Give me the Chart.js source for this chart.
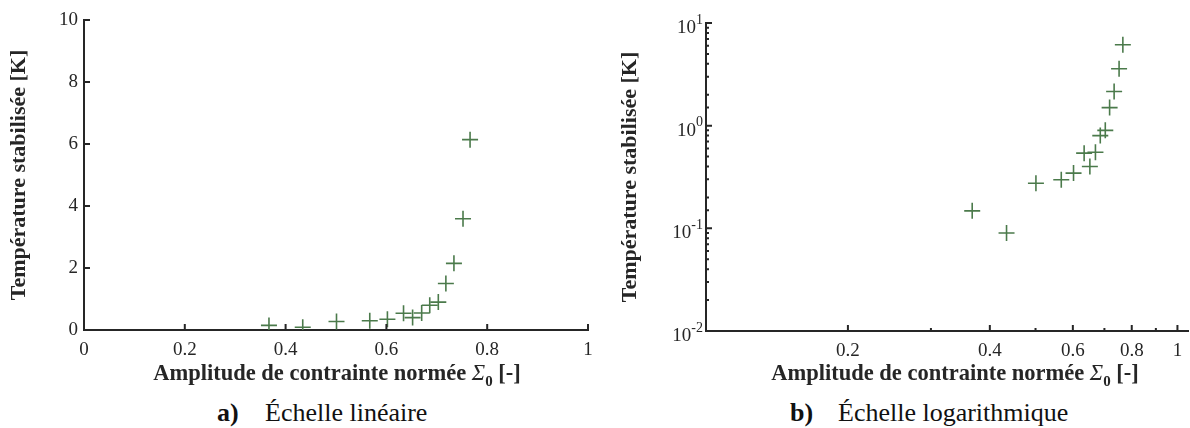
<!DOCTYPE html>
<html>
<head>
<meta charset="utf-8">
<script src="https://cdn.jsdelivr.net/npm/chart.js@4/dist/chart.umd.min.js"></script>
<style>
  body { margin: 0; width: 1190px; height: 428px; position: relative; overflow: hidden; background: #fff;
         font-family: "Liberation Serif", "Times New Roman", serif; color: #262626; }
  canvas { position: absolute; top: 0; }
  #graphA { left: 0; }
  #graphB { left: 590px; }
  .titreX { position: absolute; font-weight: bold; font-size: 22.5px; line-height: 26px; white-space: nowrap;
            transform: translateX(-50%); }
  .titreX i { font-weight: normal; }
  .titreX sub { font-size: 15px; vertical-align: -6px; }
  .legende { position: absolute; font-size: 26px; line-height: 30px; white-space: nowrap; color: #111; }
  .legende b { display: inline-block; width: 48px; }
</style>
</head>
<body>
<canvas id="graphA" width="600" height="380"></canvas>
<canvas id="graphB" width="608" height="380"></canvas>

<div class="titreX" style="left:337px; top:360px">Amplitude de contrainte normée <i>Σ</i><sub>0</sub> [-]</div>
<div class="titreX" style="left:955px; top:360px">Amplitude de contrainte normée <i>Σ</i><sub>0</sub> [-]</div>
<div class="legende" style="left:217px; top:398px"><b>a)</b>Échelle linéaire</div>
<div class="legende" style="left:790px; top:398px"><b>b)</b>Échelle logarithmique</div>

<script>
// ====== DONNÉES ======
const amplitude   = [0.367, 0.434, 0.501, 0.567, 0.602, 0.634, 0.652, 0.670, 0.686, 0.703, 0.718, 0.734, 0.752, 0.766];
const temperature = [0.148, 0.090, 0.275, 0.297, 0.345, 0.54, 0.40, 0.55, 0.80, 0.90, 1.50, 2.15, 3.59, 6.14];

const ticksXLin = [0, 0.2, 0.4, 0.6, 0.8, 1];
const ticksYLin = [0, 2, 4, 6, 8, 10];
const ticksXLog = [0.2, 0.3, 0.4, 0.5, 0.6, 0.7, 0.8, 0.9, 1];
const labelsXLog = [0.2, 0.4, 0.6, 0.8, 1];

const titreY = 'Température stabilisée [K]';
const vert = '#4b7a4b';
const noir = '#262626';
const police = '"Liberation Serif", "Times New Roman", serif';

const points = amplitude.map((a, i) => ({ x: a, y: temperature[i] }));

// ====== PLUGINS ======
// petits traits vers l'intérieur, façon MATLAB
const traitsInterieurs = {
  id: 'traitsInterieurs',
  afterDatasetsDraw(chart, args, opts) {
    const { ctx, chartArea: ca, scales: { x, y } } = chart;
    ctx.save();
    ctx.strokeStyle = noir;
    ctx.lineWidth = 2;
    ctx.beginPath();
    x.ticks.forEach(t => {
      const p = x.getPixelForValue(t.value);
      ctx.moveTo(p, ca.bottom);
      ctx.lineTo(p, ca.bottom - opts.longX(t));
    });
    y.ticks.forEach(t => {
      const p = y.getPixelForValue(t.value);
      ctx.moveTo(ca.left, p);
      ctx.lineTo(ca.left + opts.longY(t), p);
    });
    ctx.stroke();
    ctx.restore();
  }
};

// étiquettes 10^n avec exposant
const etiquettesPuissance = {
  id: 'etiquettesPuissance',
  afterDraw(chart) {
    const { ctx, chartArea: ca, scales: { y } } = chart;
    ctx.save();
    ctx.fillStyle = noir;
    ctx.textAlign = 'right';
    ctx.textBaseline = 'middle';
    y.ticks.filter(t => t.major).forEach(t => {
      const p = y.getPixelForValue(t.value);
      const exp = String(Math.round(Math.log10(t.value)));
      ctx.font = '14px ' + police;
      const xe = ca.left - 3;
      ctx.fillText(exp, xe, p - 3);
      const we = ctx.measureText(exp).width;
      ctx.font = '19px ' + police;
      ctx.fillText('10', xe - we, p + 5);
    });
    ctx.restore();
  }
};

// pas de marge automatique due aux étiquettes
const sansMarge = s => { s.paddingLeft = 0; s.paddingRight = 0; s.paddingTop = 0; s.paddingBottom = 0; };

const commun = {
  type: 'scatter',
  data: {
    datasets: [{
      data: points,
      pointStyle: 'cross',
      pointRadius: 8,
      pointHoverRadius: 8,
      borderColor: vert,
      backgroundColor: vert,
      borderWidth: 1.6
    }]
  }
};

const axeCommun = (extra) => Object.assign({
  grid: { display: true, drawOnChartArea: false, drawTicks: false },
  border: { color: noir, width: 2 },
}, extra);

// ====== GRAPHE a) linéaire ======
new Chart(document.getElementById('graphA'), {
  ...commun,
  data: JSON.parse(JSON.stringify(commun.data)),
  options: {
    responsive: false,
    animation: false,
    layout: { padding: { left: 0, right: 12, top: 20, bottom: 0 } },
    plugins: {
      legend: { display: false },
      tooltip: { enabled: false },
      traitsInterieurs: { longX: () => 6, longY: () => 6 }
    },
    scales: {
      x: axeCommun({
        type: 'linear', min: 0, max: 1,
        afterBuildTicks: s => { s.ticks = ticksXLin.map(v => ({ value: v })); },
        afterFit: s => { s.height = 50; sansMarge(s); },
        ticks: { autoSkip: false, maxRotation: 0, padding: 9, color: noir,
                 font: { family: police, size: 19 }, callback: v => String(v) }
      }),
      y: axeCommun({
        type: 'linear', min: 0, max: 10,
        afterBuildTicks: s => { s.ticks = ticksYLin.map(v => ({ value: v })); },
        afterFit: s => { s.width = 84; sansMarge(s); },
        ticks: { autoSkip: false, padding: 6, color: noir,
                 font: { family: police, size: 19 }, callback: v => String(v) },
        title: { display: true, text: titreY, color: noir, padding: { top: 6, bottom: 0 },
                 font: { family: police, size: 22, weight: 'bold' } }
      })
    }
  },
  plugins: [traitsInterieurs]
});

// ====== GRAPHE b) logarithmique ======
new Chart(document.getElementById('graphB'), {
  ...commun,
  data: JSON.parse(JSON.stringify(commun.data)),
  options: {
    responsive: false,
    animation: false,
    layout: { padding: { left: 0, right: 4, top: 23, bottom: 0 } },
    plugins: {
      legend: { display: false },
      tooltip: { enabled: false },
      traitsInterieurs: {
        longX: t => labelsXLog.includes(t.value) ? 6 : 3,
        longY: t => t.major ? 6 : 3
      }
    },
    scales: {
      x: axeCommun({
        type: 'logarithmic', min: 0.1, max: 1.055,
        afterBuildTicks: s => { s.ticks = ticksXLog.map(v => ({ value: v })); },
        afterFit: s => { s.height = 49; sansMarge(s); },
        ticks: { autoSkip: false, maxRotation: 0, padding: 9, color: noir,
                 font: { family: police, size: 19 },
                 callback: v => labelsXLog.includes(v) ? String(v) : '' }
      }),
      y: axeCommun({
        type: 'logarithmic', min: 0.01, max: 10,
        afterFit: s => { s.width = 116; sansMarge(s); },
        ticks: { display: false, autoSkip: false },
        title: { display: true, text: titreY, color: noir, padding: { top: 27, bottom: 0 },
                 font: { family: police, size: 22, weight: 'bold' } }
      })
    }
  },
  plugins: [traitsInterieurs, etiquettesPuissance]
});
</script>
</body>
</html>
